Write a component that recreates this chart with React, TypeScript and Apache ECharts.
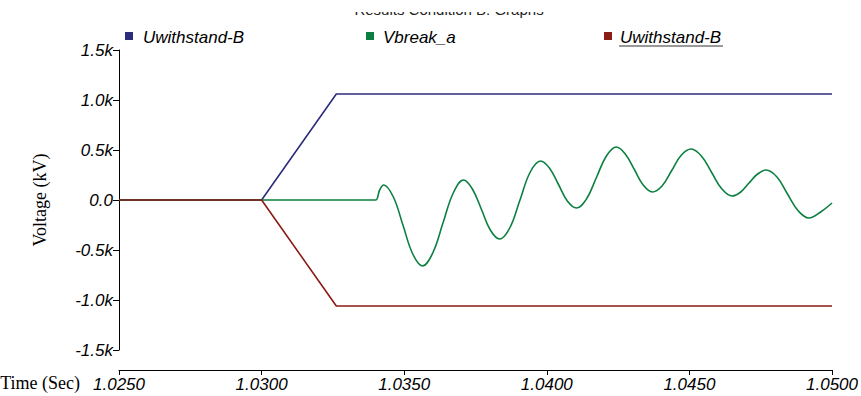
import React, { useEffect, useRef } from "react";
import * as echarts from "echarts";

const xTicks = [1.025, 1.03, 1.035, 1.04, 1.045, 1.05];
const yTicks = [-1500, -1000, -500, 0, 500, 1000, 1500];

const blueTime = [1.025, 1.03, 1.03262, 1.05];
const blueVolt = [0, 0, 1060, 1060];

const redTime = [1.025, 1.03, 1.03262, 1.05];
const redVolt = [0, 0, -1060, -1060];

const greenTime = [
  1.025, 1.03379, 1.034, 1.03414, 1.03428, 1.03462, 1.03496, 1.0353, 1.03564,
  1.036, 1.03636, 1.03672, 1.03708, 1.03739, 1.03771, 1.03802, 1.03834,
  1.0387, 1.03906, 1.03942, 1.03978, 1.04009, 1.04041, 1.04072, 1.04104,
  1.04139, 1.04174, 1.04209, 1.04244, 1.04275, 1.04307, 1.04338, 1.0437,
  1.04404, 1.04438, 1.04472, 1.04506, 1.04542, 1.04578, 1.04614, 1.0465,
  1.0468, 1.04709, 1.04739, 1.04769, 1.04807, 1.04844, 1.04882, 1.04919,
  1.0496, 1.05,
];
const greenVolt = [
  0, 0, 0, 100, 150, 30, -255, -540, -660, -530, -230, 70, 200, 110, -95,
  -300, -390, -280, 0, 280, 390, 320, 155, -10, -80, 10, 225, 440, 530, 460,
  305, 150, 80, 140, 295, 450, 510, 440, 275, 110, 40, 80, 170, 260, 300, 230,
  60, -110, -180, -120, -30,
];

const legendNames = ["Uwithstand-B", "Vbreak_a", "Uwithstand-B"];
const colors = ["#2b2d7c", "#0b8040", "#8a1c16"];

const zip = (t: number[], v: number[]) => t.map((x, i) => [x, v[i]]);

export default function App() {
  const ref = useRef<HTMLDivElement>(null);
  useEffect(() => {
    if (!ref.current) return;
    const chart = echarts.init(ref.current, undefined, { renderer: "svg" });
    const labelFont = {
      fontFamily: "Liberation Sans, Arial, sans-serif",
      fontStyle: "italic" as const,
      fontSize: 17,
      color: "#000",
    };
    const legendX = [125, 366, 604];
    const legendTextX = [143, 383, 620];
    const graphic: any[] = [
      {
        type: "text",
        x: 449,
        y: 17,
        z: 1,
        style: {
          text: "Results Condition B: Graphs",
          fontFamily: "Liberation Sans, Arial, sans-serif",
          fontSize: 15,
          fill: "#222",
          align: "center",
          verticalAlign: "bottom",
        },
      },
      {
        type: "rect",
        z: 50,
        shape: { x: 300, y: 0, width: 300, height: 12 },
        style: { fill: "#fff" },
      },
      {
        type: "text",
        x: 80,
        y: 383,
        style: {
          text: "Time (Sec)",
          fontFamily: "Liberation Serif, Times New Roman, serif",
          fontSize: 18,
          fill: "#000",
          align: "right",
          verticalAlign: "middle",
        },
      },
      {
        type: "line",
        shape: { x1: 619, y1: 46, x2: 723, y2: 46 },
        style: { stroke: "#333", lineWidth: 1 },
      },
    ];
    legendNames.forEach((n, i) => {
      graphic.push({
        type: "rect",
        shape: { x: legendX[i], y: 32, width: 8, height: 8 },
        style: { fill: colors[i] },
      });
      graphic.push({
        type: "text",
        x: legendTextX[i],
        y: 37,
        style: {
          text: n,
          fontFamily: "Liberation Sans, Arial, sans-serif",
          fontStyle: "italic",
          fontSize: 17,
          fill: "#000",
          align: "left",
          verticalAlign: "middle",
        },
      });
    });

    chart.setOption({
      animation: false,
      backgroundColor: "#fff",
      grid: { left: 119, right: 28, top: 50, bottom: 46, containLabel: false },
      xAxis: {
        type: "value",
        min: xTicks[0],
        max: xTicks[xTicks.length - 1],
        interval: 0.005,
        offset: 20,
        axisLine: {
          show: true,
          onZero: false,
          lineStyle: { color: "#000", width: 1 },
        },
        axisTick: { show: true, length: 5, lineStyle: { color: "#000" } },
        splitLine: { show: false },
        axisLabel: {
          ...labelFont,
          margin: 6,
          formatter: (v: number) => v.toFixed(4),
        },
      },
      yAxis: {
        type: "value",
        min: yTicks[0],
        max: yTicks[yTicks.length - 1],
        interval: 500,
        name: "Voltage (kV)",
        nameLocation: "middle",
        nameGap: 70,
        nameRotate: 90,
        nameTextStyle: {
          fontFamily: "Liberation Serif, Times New Roman, serif",
          fontSize: 18,
          color: "#000",
        },
        axisLine: {
          show: true,
          onZero: false,
          lineStyle: { color: "#000", width: 1 },
        },
        axisTick: { show: true, length: 6, lineStyle: { color: "#000" } },
        splitLine: { show: false },
        axisLabel: {
          ...labelFont,
          margin: 6,
          formatter: (v: number) =>
            v === 0 ? "0.0" : (v / 1000).toFixed(1) + "k",
        },
      },
      graphic,
      series: [
        {
          name: "Uwithstand-B",
          type: "line",
          data: zip(blueTime, blueVolt),
          showSymbol: false,
          lineStyle: { color: colors[0], width: 1.6 },
          itemStyle: { color: colors[0] },
          z: 2,
        },
        {
          name: "Vbreak_a",
          type: "line",
          data: zip(greenTime, greenVolt),
          showSymbol: false,
          smooth: 0.4,
          lineStyle: { color: colors[1], width: 1.6 },
          itemStyle: { color: colors[1] },
          z: 3,
        },
        {
          name: "Uwithstand-B (2)",
          type: "line",
          data: zip(redTime, redVolt),
          showSymbol: false,
          lineStyle: { color: colors[2], width: 1.6 },
          itemStyle: { color: colors[2] },
          z: 4,
        },
      ],
    });
    return () => chart.dispose();
  }, []);
  return (
    <div
      ref={ref}
      style={{ position: "absolute", left: 0, top: 0, width: 861, height: 396 }}
    />
  );
}
